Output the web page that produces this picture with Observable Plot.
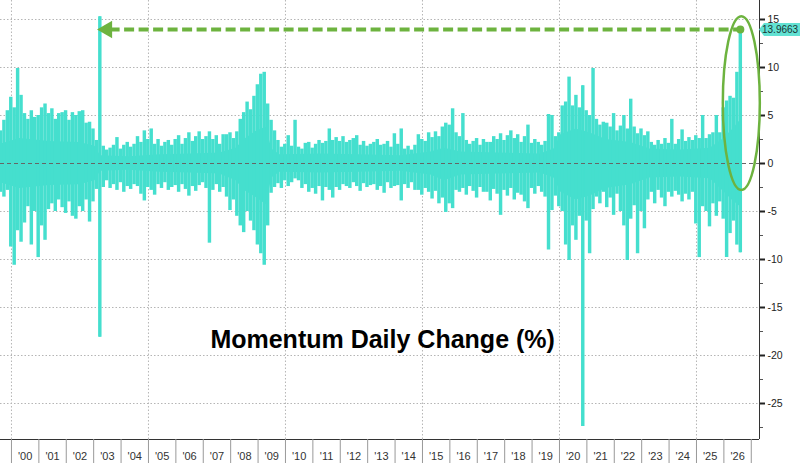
<!DOCTYPE html>
<html><head><meta charset="utf-8">
<script src="https://cdn.jsdelivr.net/npm/d3@7"></script>
<script src="https://cdn.jsdelivr.net/npm/@observablehq/plot@0.6"></script>
<style>body{margin:0;background:#fff}#chart{width:800px;height:466px}</style>
</head><body><div id="chart"></div>
<script>
// ---- data ----
// sampling grid of the series (fractional years)
const seriesStart = 1999.6;
const seriesStep = 0.125;
// highest daily gain within each sample window (%)
const upMoves = [
 3.4,4.5,5.5,6.9,5.8,9.9,7.1,5.2,4.6,5.5,
 4.8,5.0,5.8,6.2,5.2,5.7,4.6,5.2,5.3,5.5,
 4.5,5.3,5.0,5.4,5.5,4.2,4.3,3.6,2.4,15.3,
 1.8,1.4,1.6,1.9,2.7,1.5,1.9,2.2,1.7,2.0,
 2.8,2.2,3.4,2.5,3.6,2.0,2.5,1.8,2.2,2.4,
 1.9,2.5,2.9,2.0,2.6,3.2,2.3,2.8,3.3,2.5,
 2.8,3.3,2.5,2.9,2.0,3.0,3.0,3.2,2.6,3.3,
 4.6,5.3,6.4,5.6,7.0,8.2,9.3,9.5,6.2,4.5,
 3.4,2.4,1.7,2.0,2.9,1.8,4.5,1.7,1.5,2.1,
 2.2,1.6,2.0,2.4,2.1,2.3,3.6,2.4,2.7,2.3,
 2.8,2.2,2.4,2.6,2.9,1.9,2.3,1.8,2.0,2.2,
 2.5,1.9,2.0,2.3,1.7,3.1,2.0,3.6,1.5,1.8,
 1.4,1.9,3.0,2.5,2.3,3.2,2.7,3.3,2.8,3.8,
 4.2,4.0,5.7,3.2,2.8,5.2,2.4,2.0,2.3,2.6,
 1.9,2.5,2.2,2.2,2.8,2.5,3.1,2.4,2.9,3.4,
 2.6,3.0,2.2,2.8,4.0,2.1,2.5,2.2,1.9,2.3,
 5.1,5.0,2.8,3.2,6.0,6.4,9.0,6.0,7.1,5.8,
 8.1,5.5,5.0,9.9,4.6,4.0,4.3,4.2,3.8,5.2,
 3.4,3.9,5.0,3.6,6.7,3.8,3.1,3.6,2.9,3.3,
 2.2,1.9,2.4,2.0,2.6,2.1,4.6,2.0,2.5,3.5,
 2.3,2.7,2.4,2.9,2.6,5.0,2.6,3.0,3.2,5.0,
 3.2,5.8,6.5,7.0,6.8,9.5,13.9663
];
// largest daily loss within each sample window (%)
const downMoves = [
 -3.0,-3.5,-2.8,-8.7,-10.6,-7.0,-8.2,-6.2,-4.5,-8.5,
 -5.0,-9.8,-6.5,-8.0,-4.8,-4.2,-5.0,-3.8,-4.6,-5.2,
 -4.0,-5.5,-5.8,-4.5,-5.0,-3.8,-6.1,-4.0,-2.7,-18.1,
 -2.5,-1.8,-2.6,-2.2,-2.8,-2.0,-3.0,-2.4,-2.7,-2.2,
 -2.4,-3.2,-3.9,-2.5,-2.8,-3.3,-2.2,-2.6,-2.0,-2.8,
 -2.5,-2.3,-3.0,-2.2,-2.7,-3.4,-2.4,-2.9,-2.3,-2.0,
 -2.6,-8.3,-2.8,-2.2,-3.0,-2.5,-3.5,-4.9,-3.8,-5.5,
 -6.5,-7.2,-5.0,-6.0,-7.0,-8.5,-9.4,-10.6,-6.5,-3.1,
 -2.5,-2.1,-2.6,-1.8,-2.4,-2.0,-1.6,-1.8,-2.6,-2.2,
 -3.0,-2.6,-3.2,-2.4,-3.9,-2.5,-2.8,-3.6,-2.5,-2.8,
 -2.2,-2.4,-2.6,-2.0,-2.4,-2.9,-2.1,-2.5,-2.3,-2.2,
 -2.8,-2.4,-3.1,-2.0,-2.6,-2.4,-2.3,-3.9,-2.2,-2.6,
 -2.0,-2.8,-2.8,-3.3,-2.6,-3.0,-3.7,-2.9,-4.2,-3.6,
 -5.1,-4.2,-4.7,-2.8,-3.0,-2.6,-3.3,-2.4,-2.9,-3.6,
 -2.5,-3.0,-3.0,-3.9,-2.7,-3.2,-5.4,-2.8,-3.4,-2.6,
 -3.8,-3.1,-3.3,-4.0,-4.7,-2.6,-3.2,-2.4,-3.0,-3.5,
 -9.0,-4.9,-3.4,-4.5,-5.0,-8.5,-10.1,-6.5,-8.0,-5.5,
 -27.4,-6.0,-9.4,-4.8,-3.5,-4.2,-3.0,-4.6,-3.6,-5.4,
 -3.2,-5.0,-6.5,-10.1,-5.8,-4.4,-9.4,-5.0,-6.8,-3.8,
 -3.0,-4.2,-2.8,-3.6,-4.5,-3.0,-3.5,-2.9,-3.3,-4.0,
 -3.2,-3.8,-3.0,-6.3,-9.8,-4.5,-5.0,-6.6,-4.2,-5.5,
 -4.0,-5.8,-9.8,-7.3,-6.0,-8.5,-9.3
];
// dense core of daily moves (typical range)
const coreYears = [1999.6,2000.3,2001.4,2002.5,2003.05,2003.25,2004.3,2005.4,2006.5,2007.6,2008.2,2008.5,2008.9,2009.3,2009.5,2009.8,2011.3,2012.7,2014.2,2015.3,2015.8,2016.4,2017.8,2019.3,2019.8,2020.05,2020.6,2021.1,2021.7,2022.6,2023.3,2024.4,2025.5,2025.95,2026.3,2026.6];
const coreHigh = [2.0,2.6,2.3,2.2,1.8,0.8,0.7,0.9,1.0,1.1,1.6,2.5,3.3,3.8,1.5,0.9,1.0,0.9,0.8,1.2,1.6,1.2,1.1,1.0,1.5,3.0,3.6,3.2,2.5,2.2,1.5,1.4,1.6,2.5,3.5,4.5];
const coreLow  = [-2.0,-2.6,-2.3,-2.2,-1.8,-0.8,-0.7,-0.9,-1.0,-1.1,-1.8,-2.8,-3.5,-4.3,-1.5,-0.9,-1.0,-0.9,-0.8,-1.2,-1.8,-1.2,-1.1,-1.0,-1.5,-3.0,-3.8,-3.4,-2.6,-2.2,-1.5,-1.4,-1.6,-2.8,-3.8,-4.5];

const yearStarts = d3.range(2000, 2028);
const yearLabels = ["'00","'01","'02","'03","'04","'05","'06","'07","'08","'09","'10","'11","'12","'13","'14","'15","'16","'17","'18","'19","'20","'21","'22","'23","'24","'25","'26"];
const gridYears = [2000, 2005, 2010, 2015, 2020, 2025];
const yMajor = [15, 10, 5, 0, -5, -10, -15, -20, -25];
const yMinor = [12.5, 7.5, 2.5, -2.5, -7.5, -12.5, -17.5, -22.5, -27.5];
const titleText = "Momentum Daily Change (%)";
const lastValueLabel = "13.9663";
const arrowTargetYear = 2003.25; // the 2003 spike the arrow points to

// ---- build ----
const slots = upMoves.map((u, i) => ({t: seriesStart + i * seriesStep, hi: u, lo: downMoves[i]}));
const core = coreYears.map((t, i) => ({t, hi: coreHigh[i], lo: coreLow[i]}));
const last = slots[slots.length - 1];
const xDomain = [1999.6, 2027.3];
const yDomain = [-28.75, 16.98];
const teal = "#45dfce";
const green = "#6db33f";
const font = "'Liberation Sans', Arial, sans-serif";

const chart = Plot.plot({
  width: 800, height: 466,
  marginLeft: 0, marginRight: 41, marginTop: 0, marginBottom: 27,
  x: {domain: xDomain, axis: null},
  y: {domain: yDomain, axis: null},
  style: {fontFamily: font, background: "#fff", overflow: "visible"},
  marks: [
    Plot.ruleX(gridYears, {stroke: "#b5b5b5", strokeDasharray: "1.5,2"}),
    Plot.ruleY(yMajor.filter(d => d !== 0), {stroke: "#b5b5b5", strokeDasharray: "1.5,2"}),
    Plot.areaY(core, {x: "t", y1: "lo", y2: "hi", fill: teal}),
    Plot.ruleX(slots, {x: "t", y1: "lo", y2: "hi", stroke: teal, strokeWidth: 3.45}),
    Plot.ruleX(slots.filter(d => d.hi > 12 || d.lo < -12), {x: "t", y1: "lo", y2: "hi", stroke: teal, strokeWidth: 1.6}),
    Plot.ruleY([0], {stroke: "#666", strokeDasharray: "4,3", strokeWidth: 1}),
    // annotation arrow
    Plot.ruleY([last], {y: "hi", x1: arrowTargetYear + 0.35, x2: "t", stroke: green, strokeWidth: 4, strokeDasharray: "10,4.5"}),
    Plot.dot([{t: arrowTargetYear + 0.24, v: last.hi}], {x: "t", y: "v", symbol: "triangle", r: 6.5, rotate: -90, fill: green, stroke: "none"}),
    Plot.dot([last], {x: "t", y: "hi", r: 4, fill: green, stroke: "none"}),
    // title inside the chart
    Plot.text([{t: 2007.26, v: -18.35, s: titleText}], {x: "t", y: "v", text: "s", textAnchor: "start", lineAnchor: "middle", fontSize: 25, fontWeight: "bold", fill: "#000"}),
    // frame lines
    Plot.ruleX([xDomain[1]], {stroke: "#333"}),
    Plot.ruleY([yDomain[0]], {stroke: "#333"}),
    // axes
    Plot.axisX({ticks: yearStarts, tickSize: 24, tickFormat: () => "", stroke: "#999", label: null}),
    Plot.axisX({ticks: yearStarts.slice(0, 27).map(d => d + 0.5), tickSize: 0, tickPadding: 13, tickFormat: (d, i) => yearLabels[i], fontSize: 11, fill: "#333", label: null}),
    Plot.axisY({anchor: "right", ticks: yMajor, tickSize: 5, tickPadding: 3, strokeWidth: 2, tickFormat: d => String(d), fontSize: 10.5, fill: "#222", stroke: "#222", label: null}),
    Plot.axisY({anchor: "right", ticks: yMinor, tickSize: 3, tickFormat: () => "", stroke: "#555", label: null})
  ]
});
document.getElementById("chart").append(chart);

// ellipse highlight and last-value tag
const xs = chart.scale("x"), ys = chart.scale("y");
const svg = d3.select(chart);
const cx = xs.apply(last.t) + 1.5;
const cy = (ys.apply(15.3) + ys.apply(-2.8)) / 2;
svg.append("ellipse")
  .attr("cx", cx).attr("cy", cy)
  .attr("rx", 18.5).attr("ry", (ys.apply(-2.8) - ys.apply(15.3)) / 2)
  .attr("fill", "none").attr("stroke", green).attr("stroke-width", 2.5);
const ty = ys.apply(last.hi) + 0.5;
const ax = xs.apply(xDomain[1]);
svg.append("path")
  .attr("d", `M${ax},${ty} L${ax + 5},${ty - 6.5} L800,${ty - 6.5} L800,${ty + 6.5} L${ax + 5},${ty + 6.5} Z`)
  .attr("fill", "#62e2d3");
svg.append("text")
  .attr("x", ax + 3).attr("y", ty).attr("dy", "0.35em")
  .attr("text-anchor", "start")
  .attr("font-family", font).attr("font-size", 10).attr("fill", "#1b3434")
  .text(lastValueLabel);
</script>
</body></html>
